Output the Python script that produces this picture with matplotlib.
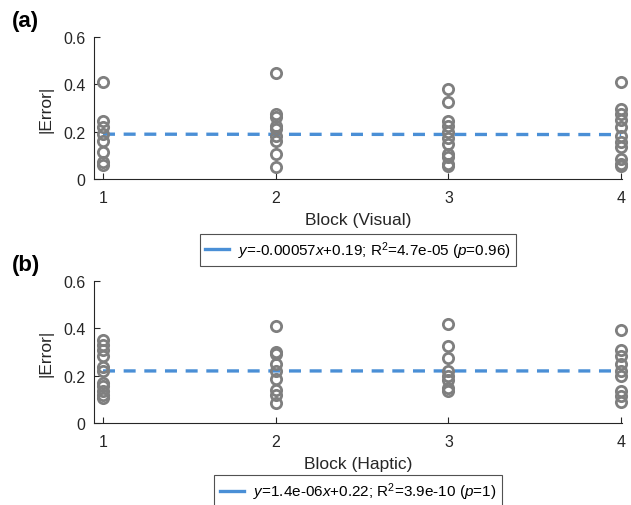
import matplotlib
matplotlib.use("Agg")
import matplotlib.pyplot as plt
import numpy as np

plt.rcParams['font.family'] = ['Liberation Sans', 'DejaVu Sans']
plt.rcParams['mathtext.fontset'] = 'custom'
plt.rcParams['mathtext.rm'] = 'Liberation Sans'
plt.rcParams['mathtext.it'] = 'Liberation Sans:italic'
plt.rcParams['mathtext.bf'] = 'Liberation Sans:bold'

blocks = [1, 2, 3, 4]

visual_errors = [
    [0.41, 0.245, 0.22, 0.19, 0.16, 0.115, 0.072, 0.058],
    [0.45, 0.275, 0.26, 0.225, 0.21, 0.18, 0.16, 0.105, 0.05],
    [0.38, 0.325, 0.245, 0.225, 0.20, 0.175, 0.15, 0.105, 0.093, 0.063, 0.055],
    [0.41, 0.295, 0.275, 0.25, 0.22, 0.18, 0.155, 0.135, 0.085, 0.063, 0.055],
]
haptic_errors = [
    [0.35, 0.33, 0.31, 0.285, 0.235, 0.22, 0.17, 0.155, 0.135, 0.12, 0.105],
    [0.41, 0.30, 0.29, 0.25, 0.22, 0.185, 0.14, 0.12, 0.085],
    [0.42, 0.325, 0.275, 0.22, 0.20, 0.18, 0.15, 0.135],
    [0.395, 0.31, 0.285, 0.25, 0.22, 0.20, 0.135, 0.115, 0.09],
]

visual_fit = (-0.00057, 0.19)
haptic_fit = (1.4e-06, 0.22)

visual_label = r'$\it{y}$=-0.00057$\it{x}$+0.19; R$^2$=4.7e-05 ($\it{p}$=0.96)'
haptic_label = r'$\it{y}$=1.4e-06$\it{x}$+0.22; R$^2$=3.9e-10 ($\it{p}$=1)'

yticks = [0, 0.2, 0.4, 0.6]
ytick_labels = ['0', '0.2', '0.4', '0.6']

W, H = 631, 506
fig = plt.figure(figsize=(W / 100, H / 100), dpi=100)

def px_axes(left, top, right, bottom):
    return fig.add_axes([left / W, 1 - bottom / H, (right - left) / W, (bottom - top) / H])

ax_a = px_axes(94, 38, 622, 180)
ax_b = px_axes(94, 282, 622, 424)

panels = [
    (ax_a, visual_errors, visual_fit, visual_label, 'Block (Visual)', (358 - 94) / 528, -0.5),
    (ax_b, haptic_errors, haptic_fit, haptic_label, 'Block (Haptic)', (358 - 94) / 528, -0.48),
]

gray = '#7F7F7F'
blue = '#4A8FD6'

for ax, errs, fit, lab, xlab, legx, legy in panels:
    for b, vals in zip(blocks, errs):
        ax.plot([b] * len(vals), vals, linestyle='none', marker='o',
                markersize=7.4, markerfacecolor='none', markeredgecolor=gray,
                markeredgewidth=2.0, zorder=3, clip_on=False)
    xs = np.array([blocks[0], blocks[-1]], dtype=float)
    ax.plot(xs, fit[0] * xs + fit[1], color=blue, linewidth=2.4,
            linestyle=(0, (3.6, 2.6)), label=lab, zorder=2)
    ax.set_xlim(0.948, 4.005)
    ax.set_ylim(0, 0.6)
    ax.set_xticks(blocks)
    ax.set_xticklabels([str(b) for b in blocks])
    ax.set_yticks(yticks)
    ax.set_yticklabels(ytick_labels)
    for s in ['top', 'right']:
        ax.spines[s].set_visible(False)
    for s in ['left', 'bottom']:
        ax.spines[s].set_color('#262626')
        ax.spines[s].set_linewidth(0.8)
    ax.tick_params(direction='in', length=4, width=0.8, colors='#262626',
                   labelsize=11.5, labelcolor='#262626')
    ax.tick_params(axis='x', pad=8)
    ax.tick_params(axis='y', pad=6)
    ax.set_ylabel('|Error|', fontsize=12.5, color='#262626', labelpad=7)
    ax.set_xlabel(xlab, fontsize=12.5, color='#262626', labelpad=5)
    leg = ax.legend(loc='center', bbox_to_anchor=(legx, legy), fontsize=11,
                    frameon=True, fancybox=False, handlelength=1.6,
                    handletextpad=0.6, borderpad=0.35, borderaxespad=0)
    leg.get_frame().set_edgecolor('#262626')
    leg.get_frame().set_linewidth(0.8)
    for h in leg.get_lines():
        h.set_linestyle('-')

fig.text(12 / W, 1 - 22 / H, '(a)', fontsize=16, fontweight='bold', va='center', ha='left')
fig.text(12 / W, 1 - 266 / H, '(b)', fontsize=16, fontweight='bold', va='center', ha='left')

fig.savefig('out.png', dpi=100)
